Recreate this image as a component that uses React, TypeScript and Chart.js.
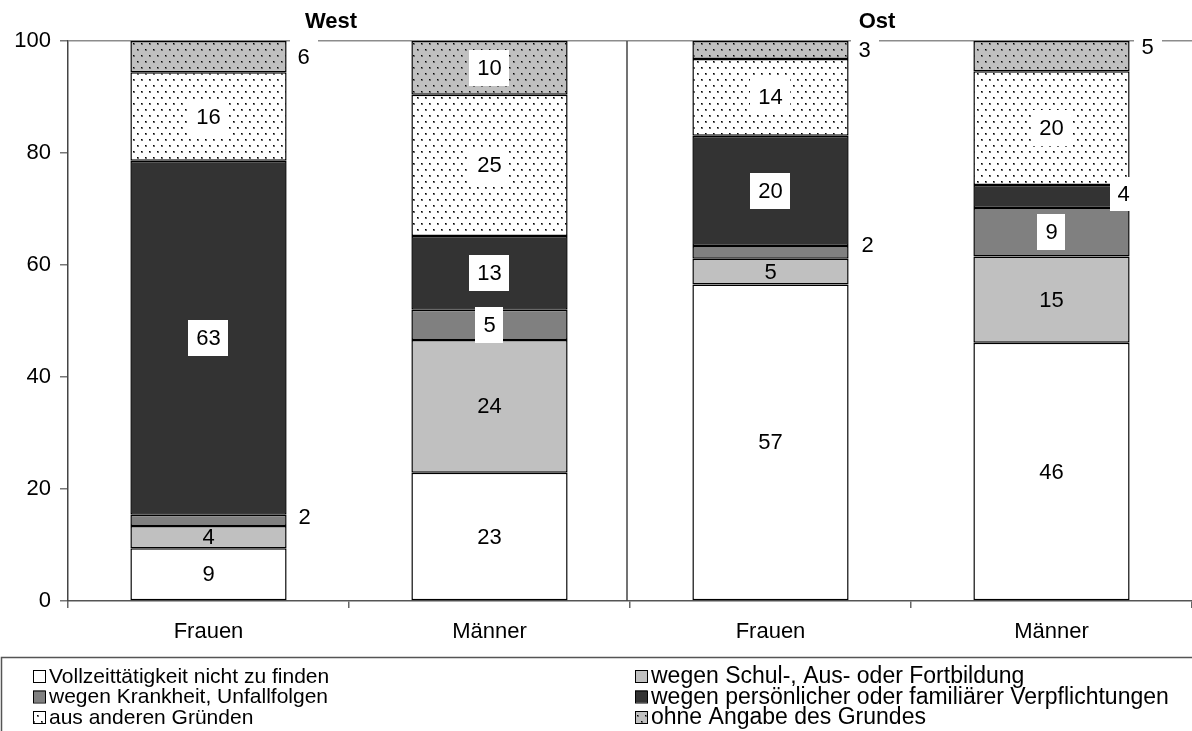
import React, { useEffect, useRef } from "react";
import { Chart, registerables } from "chart.js";

Chart.register(...registerables);

// ---- data ----
const categories = ["Frauen", "Männer", "Frauen", "Männer"];
const regionTitles = ["West", "Ost"];
const seriesNames = [
  "Vollzeittätigkeit nicht zu finden",
  "wegen Schul-, Aus- oder Fortbildung",
  "wegen Krankheit, Unfallfolgen",
  "wegen persönlicher oder familiärer Verpflichtungen",
  "aus anderen Gründen",
  "ohne Angabe des Grundes",
];
const vollzeit = [9.4, 22.9, 56.5, 46.1];
const schul = [4.0, 23.7, 4.6, 15.4];
const krank = [2.0, 5.4, 2.3, 8.7];
const persoenlich = [63.2, 13.2, 19.7, 4.1];
const andere = [15.8, 25.2, 13.7, 20.3];
const ohne = [5.6, 9.6, 3.2, 5.4];
const yTicks = [0, 20, 40, 60, 80, 100];

// labels placed beside the bar: key "series-category" -> [dx from bar right edge, dy]
const outsideLabels: Record<string, [number, number]> = {
  "5-0": [17, 0],
  "2-0": [18, -3],
  "5-2": [16, 0],
  "2-2": [19, -7],
  "5-3": [18, -9],
  "3-3": [-6, -2],
};

const FONT = "'Liberation Sans', Arial, Helvetica, sans-serif";

function makePattern(bg: string): CanvasPattern {
  const c = document.createElement("canvas");
  c.width = 8;
  c.height = 12;
  const g = c.getContext("2d")!;
  g.fillStyle = bg;
  g.fillRect(0, 0, 8, 12);
  g.fillStyle = "#6a6a6a";
  g.fillRect(1, 1, 2, 2);
  g.fillRect(5, 7, 2, 2);
  g.fillStyle = "#000";
  g.fillRect(1, 1, 1, 1);
  g.fillRect(5, 7, 1, 1);
  return g.createPattern(c, "repeat")!;
}

export default function App() {
  const ref = useRef<HTMLCanvasElement>(null);

  useEffect(() => {
    document.body.style.margin = "0";
    Chart.defaults.font.family = FONT;
    const colors: any[] = [
      "#ffffff",
      "#c0c0c0",
      "#808080",
      "#333333",
      makePattern("#ffffff"),
      makePattern("#c0c0c0"),
    ];
    const values = [vollzeit, schul, krank, persoenlich, andere, ohne];

    const labelPlugin = {
      id: "segLabels",
      afterDatasetsDraw(chart: any) {
        const ctx = chart.ctx;
        ctx.save();
        ctx.font = `22px ${FONT}`;
        ctx.textAlign = "center";
        ctx.textBaseline = "middle";
        chart.data.datasets.forEach((ds: any, i: number) => {
          const meta = chart.getDatasetMeta(i);
          meta.data.forEach((el: any, j: number) => {
            const p = el.getProps(["x", "y", "base", "width"], true);
            const txt = String(Math.round(ds.data[j]));
            const key = `${i}-${j}`;
            let tx = p.x;
            let ty = (p.y + p.base) / 2;
            let box = i >= 2;
            const out = outsideLabels[key];
            if (out) {
              tx = p.x + p.width / 2 + out[0];
              ty += out[1];
              box = true;
            }
            const tw = ctx.measureText(txt).width;
            if (box) {
              const bw = tw + 16;
              const bh = out ? 34 : 36;
              ctx.fillStyle = "#ffffff";
              ctx.fillRect(Math.round(tx - bw / 2), Math.round(ty - bh / 2), Math.round(bw), bh);
            }
            ctx.fillStyle = "#000";
            ctx.fillText(txt, tx, ty + 1);
          });
        });
        ctx.restore();
      },
    };

    const decoPlugin = {
      id: "deco",
      beforeDatasetsDraw(chart: any) {
        const ctx = chart.ctx;
        const xs = chart.scales.x;
        const a = chart.chartArea;
        const xd = (xs.getPixelForValue(1) + xs.getPixelForValue(2)) / 2 - 3;
        ctx.save();
        ctx.strokeStyle = "#444";
        ctx.lineWidth = 1.5;
        ctx.beginPath();
        ctx.moveTo(xd, a.top);
        ctx.lineTo(xd, a.bottom);
        ctx.stroke();
        ctx.restore();
      },
      afterDraw(chart: any) {
        const ctx = chart.ctx;
        const xs = chart.scales.x;
        ctx.save();
        // region titles
        ctx.font = `bold 22px ${FONT}`;
        ctx.textAlign = "center";
        ctx.textBaseline = "middle";
        ctx.fillStyle = "#000";
        ctx.fillText(regionTitles[0], xs.getPixelForValue(0.5) - 18, 22);
        ctx.fillText(regionTitles[1], xs.getPixelForValue(2.5) - 34, 22);

        // legend box
        ctx.strokeStyle = "#555";
        ctx.lineWidth = 1.5;
        ctx.strokeRect(1.5, 657.5, 1200, 100);

        ctx.textAlign = "left";
        chart.data.datasets.forEach((ds: any, i: number) => {
          const col = i % 2;
          const row = Math.floor(i / 2);
          const mx = col === 0 ? 33 : 635;
          const my = 676 + row * 20.5;
          ctx.fillStyle = ds.backgroundColor;
          ctx.fillRect(mx, my - 6, 12, 12);
          ctx.strokeStyle = "#000";
          ctx.lineWidth = 1;
          ctx.strokeRect(mx + 0.5, my - 5.5, 12, 12);
          ctx.fillStyle = "#000";
          ctx.font = col === 0 ? `21px ${FONT}` : `23px ${FONT}`;
          ctx.fillText(ds.label, mx + 16, my + 1);
        });
        ctx.restore();
      },
    };

    const chart = new Chart(ref.current!, {
      type: "bar",
      data: {
        labels: categories,
        datasets: values.map((v, i) => ({
          label: seriesNames[i],
          data: v,
          backgroundColor: colors[i],
          borderColor: "#000",
          borderWidth: 1.5,
          borderSkipped: false,
          barPercentage: 0.556,
          categoryPercentage: 1,
        })),
      },
      options: {
        responsive: true,
        maintainAspectRatio: false,
        animation: false,
        layout: { padding: { top: 41, left: 0, right: 0, bottom: 0 } },
        plugins: {
          legend: { display: false },
          tooltip: { enabled: false },
          title: { display: false },
        },
        scales: {
          x: {
            stacked: true,
            offset: true,
            grid: {
              offset: true,
              drawOnChartArea: false,
              tickLength: 7,
              tickColor: "#666",
              lineWidth: 1.5,
            },
            border: { color: "#555", width: 1.5 },
            ticks: { color: "#000", font: { size: 22 }, padding: 11, maxRotation: 0 },
            afterFit: (s: any) => {
              s.height = 130;
            },
          },
          y: {
            stacked: true,
            min: yTicks[0],
            max: yTicks[yTicks.length - 1],
            afterBuildTicks: (s: any) => {
              s.ticks = yTicks.map((v) => ({ value: v }));
            },
            ticks: { color: "#000", font: { size: 22 }, padding: 9 },
            grid: {
              color: (c: any) =>
                c.tick && c.tick.value === 100 ? "#8c8c8c" : "rgba(0,0,0,0)",
              tickColor: "#777",
              tickLength: 8,
              lineWidth: 1.5,
            },
            border: { color: "#444", width: 1.5 },
            afterFit: (s: any) => {
              s.width = 68;
            },
          },
        },
      },
      plugins: [labelPlugin, decoPlugin],
    });
    return () => chart.destroy();
  }, []);

  return (
    <div style={{ position: "relative", width: 1192, height: 731 }}>
      <canvas ref={ref} />
    </div>
  );
}
